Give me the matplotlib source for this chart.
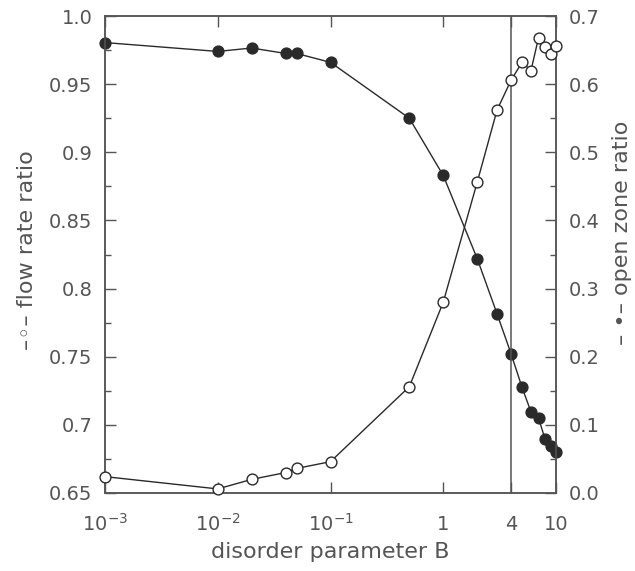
import numpy as np
import matplotlib
matplotlib.use("Agg")
import matplotlib.pyplot as plt

# ---- data ----
disorder_B = [0.001, 0.01, 0.02, 0.04, 0.05, 0.1, 0.5, 1, 2, 3, 4, 5, 6, 7, 8, 9, 10]
flow_rate_ratio = [0.662, 0.653, 0.660, 0.665, 0.668, 0.673, 0.728, 0.790, 0.878,
                   0.931, 0.953, 0.966, 0.960, 0.984, 0.977, 0.972, 0.978]
open_zone_ratio = [0.661, 0.648, 0.653, 0.645, 0.645, 0.632, 0.550, 0.466, 0.344,
                   0.263, 0.204, 0.155, 0.119, 0.110, 0.079, 0.069, 0.060]

x_ticks = [1e-3, 1e-2, 1e-1, 1, 4, 10]
x_ticklabels = [r"$10^{-3}$", r"$10^{-2}$", r"$10^{-1}$", "1", "4", "10"]
left_ticks = [0.65, 0.70, 0.75, 0.80, 0.85, 0.90, 0.95, 1.00]
left_ticklabels = ["0.65", "0.7", "0.75", "0.8", "0.85", "0.9", "0.95", "1.0"]
right_ticks = [0.0, 0.1, 0.2, 0.3, 0.4, 0.5, 0.6, 0.7]
right_ticklabels = ["0.0", "0.1", "0.2", "0.3", "0.4", "0.5", "0.6", "0.7"]
marker_line_B = 4

TXT = "#555555"
AX = "#555555"
LN = "#2a2a2a"

plt.rcParams["font.family"] = ["DejaVu Sans"]
plt.rcParams["mathtext.fontset"] = "dejavusans"

fig = plt.figure(figsize=(6.35, 5.71), dpi=100)
ax = fig.add_axes([105 / 635, 1 - 493 / 571, (556 - 105) / 635, (493 - 16) / 571])
ax2 = ax.twinx()

ax.set_xscale("log")
ax.set_xlim(1e-3, 10)
ax.set_ylim(0.65, 1.0)
ax2.set_ylim(0.0, 0.7)

ax.axvline(marker_line_B, color=AX, lw=1.1, zorder=1)

ax.plot(disorder_B, flow_rate_ratio, color=LN, lw=1.0, marker="o", ms=7.8,
        mfc="white", mec=LN, mew=1.0, zorder=3, clip_on=False)
ax2.plot(disorder_B, open_zone_ratio, color=LN, lw=1.0, marker="o", ms=7.8,
         mfc=LN, mec=LN, mew=1.0, zorder=3, clip_on=False)

for s in list(ax.spines.values()) + list(ax2.spines.values()):
    s.set_color(AX)
    s.set_linewidth(1.1)

ax.set_xticks(x_ticks)
ax.set_xticklabels(x_ticklabels)
ax.xaxis.set_minor_locator(matplotlib.ticker.NullLocator())
ax.tick_params(axis="x", which="both", direction="in", top=True, bottom=True,
               length=8, width=1.0, color=AX, labelsize=14, labelcolor=TXT, pad=27)
for lab in ax.get_xticklabels():
    lab.set_verticalalignment("baseline")

ax.set_yticks(left_ticks)
ax.set_yticklabels(left_ticklabels)
ax.set_yticks(np.array(left_ticks[:-1]) + 0.025, minor=True)
ax.tick_params(axis="y", which="both", direction="in", left=True, right=False,
               width=1.0, color=AX, labelsize=14, labelcolor=TXT, pad=9)
ax.tick_params(axis="y", which="major", length=8)
ax.tick_params(axis="y", which="minor", length=4.5)

ax2.set_yticks(right_ticks)
ax2.set_yticklabels(right_ticklabels)
ax2.set_yticks(np.array(right_ticks[:-1]) + 0.05, minor=True)
ax2.tick_params(axis="y", which="both", direction="in", right=True, left=False,
                width=1.0, color=AX, labelsize=14, labelcolor=TXT, pad=9)
ax2.tick_params(axis="y", which="major", length=8)
ax2.tick_params(axis="y", which="minor", length=4.5)

ax.set_zorder(2)
ax.patch.set_visible(False)
ax2.set_zorder(1)

fig.text(0.5 * (105 + 556) / 635, 1 - 552 / 571, "disorder parameter B",
         ha="center", va="center", fontsize=16, color=TXT)
fig.text(27 / 635, 1 - 250 / 571, "\u2013\u25e6\u2013 flow rate ratio",
         rotation=90, ha="center", va="center", fontsize=16, color=TXT)
fig.text(622 / 635, 1 - 233 / 571, "\u2013 \u2022\u2013 open zone ratio",
         rotation=90, ha="center", va="center", fontsize=16, color=TXT)

fig.savefig("out.png", dpi=100, facecolor="white")
